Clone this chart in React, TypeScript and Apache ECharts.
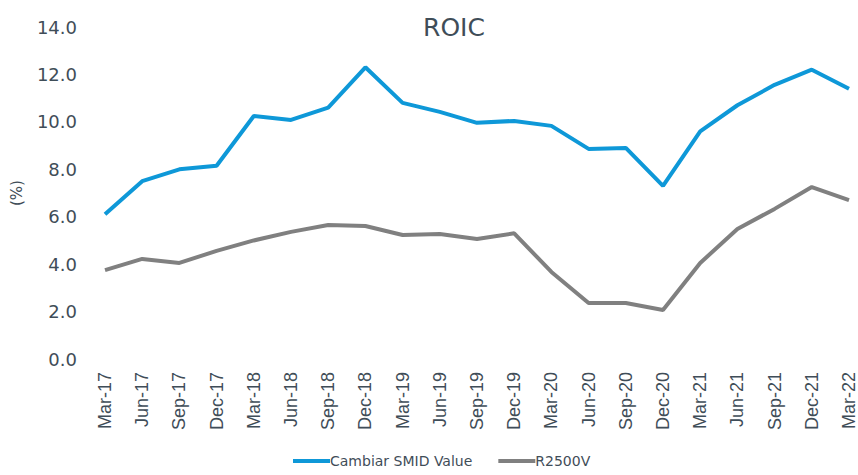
import React, { useEffect, useRef } from "react";
import * as echarts from "echarts";

const categories = [
  "Mar-17", "Jun-17", "Sep-17", "Dec-17", "Mar-18", "Jun-18", "Sep-18", "Dec-18",
  "Mar-19", "Jun-19", "Sep-19", "Dec-19", "Mar-20", "Jun-20", "Sep-20", "Dec-20",
  "Mar-21", "Jun-21", "Sep-21", "Dec-21", "Mar-22",
];
const cambiarValues = [
  6.1, 7.5, 8.0, 8.15, 10.25, 10.08, 10.6, 12.3, 10.8, 10.42, 9.96, 10.04, 9.83,
  8.86, 8.9, 7.3, 9.6, 10.7, 11.56, 12.2, 11.4,
];
const r2500vValues = [
  3.75, 4.22, 4.05, 4.56, 5.0, 5.36, 5.65, 5.61, 5.23, 5.27, 5.06, 5.3, 3.67,
  2.36, 2.36, 2.07, 4.05, 5.48, 6.33, 7.25, 6.7,
];
const seriesNames = ["Cambiar SMID Value", "R2500V"];

const textColor = "#3f4d58";

export default function App() {
  const ref = useRef<HTMLDivElement>(null);
  useEffect(() => {
    if (!ref.current) return;
    const chart = echarts.init(ref.current, null, { renderer: "svg" });
    chart.setOption({
      animation: false,
      title: {
        text: "ROIC",
        left: 449,
        top: 10,
        textAlign: "center",
        textStyle: {
          fontFamily: "DejaVu Sans",
          fontSize: 25,
          fontWeight: 500,
          color: textColor,
        },
      },
      legend: {
        bottom: 2,
        left: 288,
        itemWidth: 37,
        itemHeight: 4,
        itemGap: 26,
        icon: "rect",
        textStyle: {
          fontFamily: "DejaVu Sans",
          fontSize: 14,
          color: textColor,
          padding: [0, 0, 0, -5],
        },
        data: seriesNames,
      },
      grid: { left: 105, right: 6, top: 27, bottom: 116, containLabel: false },
      xAxis: {
        type: "category",
        data: categories,
        boundaryGap: false,
        axisLine: { show: false },
        axisTick: { show: false },
        axisLabel: {
          rotate: 90,
          margin: 13,
          fontFamily: "Liberation Sans",
          fontSize: 18,
          color: textColor,
        },
      },
      yAxis: {
        type: "value",
        min: 0,
        max: 14,
        interval: 2,
        name: "(%)",
        nameLocation: "middle",
        nameGap: 81,
        nameTextStyle: {
          fontFamily: "DejaVu Sans",
          fontSize: 15,
          color: textColor,
        },
        splitLine: { show: false },
        axisLine: { show: false },
        axisTick: { show: false },
        axisLabel: {
          margin: 28,
          formatter: (v: number) => v.toFixed(1),
          fontFamily: "DejaVu Sans",
          fontSize: 18,
          color: textColor,
        },
      },
      series: [
        {
          name: seriesNames[0],
          type: "line",
          data: cambiarValues,
          symbol: "none",
          lineStyle: { width: 4, color: "#0e98d8" },
          itemStyle: { color: "#0e98d8" },
        },
        {
          name: seriesNames[1],
          type: "line",
          data: r2500vValues,
          symbol: "none",
          lineStyle: { width: 4, color: "#808080" },
          itemStyle: { color: "#808080" },
        },
      ],
    });
    return () => chart.dispose();
  }, []);
  return <div ref={ref} style={{ width: 858, height: 475, position: "absolute", left: 0, top: 0 }} />;
}
